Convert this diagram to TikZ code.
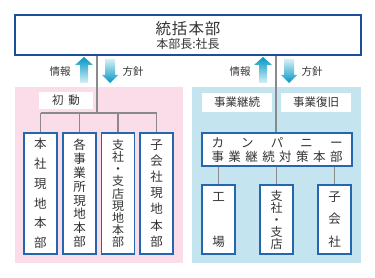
\documentclass[tikz,border=0pt]{standalone}
\usepackage{fontspec}
\setmainfont{Noto Sans CJK JP}
\usetikzlibrary{positioning}
\definecolor{HqBlue}{HTML}{1B4F9C}
\definecolor{BoxBlue}{HTML}{2566B0}
\definecolor{AreaPink}{HTML}{FADDE8}
\definecolor{AreaBlue}{HTML}{C4E4EF}
\definecolor{LinkGrey}{HTML}{8A8A8A}
\definecolor{ArrowCyan}{HTML}{0096C6}
\definecolor{ArrowPale}{HTML}{D8F0F5}
\definecolor{InkGrey}{HTML}{333333}
\tikzset{
  hqbox/.style={draw=HqBlue,line width=1.6pt,fill=white,align=center,inner sep=0pt,text=InkGrey},
  areabox/.style={inner sep=0pt,draw=none},
  tagbox/.style={fill=white,inner sep=0pt,minimum height=18pt,text=InkGrey,font=\fontsize{11.5}{13}\selectfont},
  unitbox/.style={draw=BoxBlue,line width=1.1pt,fill=white,align=center,inner sep=0pt,text=InkGrey,minimum width=33pt},
  link/.style={draw=LinkGrey,line width=1.6pt},
  flowlabel/.style={inner sep=0pt,text=InkGrey,font=\fontsize{10.5}{12}\selectfont},
  infoarrow/.pic={\shade[top color=ArrowCyan,bottom color=ArrowPale]
    (-4,13) -- (-4,-5) -- (-9,-5) -- (0,-13) -- (9,-5) -- (4,-5) -- (4,13) -- cycle;},
  planarrow/.pic={\shade[top color=ArrowPale,bottom color=ArrowCyan]
    (-5,-12) -- (-5,4) -- (-8,4) -- (0,12) -- (8,4) -- (5,4) -- (5,-12) -- cycle;}
}

\begin{document}
\begin{tikzpicture}[x=1pt,y=-1pt]
\useasboundingbox (0,0) rectangle (375,278);

% areas
\node[areabox,fill=AreaPink,minimum width=168pt,minimum height=176pt] (initial) at (99,175) {};
\node[areabox,fill=AreaBlue,minimum width=169pt,minimum height=176pt] (bcp) at (276.5,175) {};

% head office
\node[hqbox,minimum width=346pt,minimum height=40pt] (hq) at (188,35)
  {{\fontsize{15.5}{16}\selectfont 統\hspace{1pt}括\hspace{1pt}本\hspace{1pt}部}\\[2pt]{\fontsize{12}{12}\selectfont 本部長:社長}};

% info / policy arrows
\pic at (84,70) {infoarrow};
\pic at (110,71) {planarrow};
\pic at (263,70) {infoarrow};
\pic at (289,71) {planarrow};
\node[flowlabel] (infoL) at (60,72) {情報};
\node[flowlabel] (planL) at (133,72) {方針};
\node[flowlabel] (infoR) at (240,72) {情報};
\node[flowlabel] (planR) at (312,72) {方針};

% left side
\node[tagbox,minimum width=54pt,minimum height=17pt] (start) at (66,100.5) {初\hspace{5pt}動};
\node[unitbox,minimum height=121pt,font=\fontsize{12.5}{19.7}\selectfont] (u1) at (40.5,193.5) {本\\社\\現\\地\\本\\部};
\node[unitbox,minimum height=121pt,font=\fontsize{12.5}{13.8}\selectfont] (u2) at (79.5,193.5) {各\\事\\業\\所\\現\\地\\本\\部};
\node[unitbox,minimum height=121pt,font=\fontsize{12}{12.1}\selectfont] (u3) at (118,193.5) {支\\社\\・\\支\\店\\現\\地\\本\\部};
\node[unitbox,minimum height=121pt,font=\fontsize{12.5}{16.1}\selectfont] (u4) at (156.5,193.5) {子\\会\\社\\現\\地\\本\\部};

\coordinate (busL) at (97,113);
\draw[link] (hq.south -| busL) -- (busL);
\draw[link] (u1.north |- busL) -- (u4.north |- busL);
\foreach \u in {u1,u2,u3,u4}
  \draw[link] (\u.north |- busL) -- (\u.north);

% right side
\node[tagbox,minimum width=70pt,minimum height=19pt] (cont) at (237,102.5) {事業継続};
\node[tagbox,minimum width=70pt,minimum height=19pt] (recov) at (316,102.5) {事業復旧};
\node[unitbox,minimum width=150pt,minimum height=33pt,font=\fontsize{12.5}{14}\selectfont] (comp) at (277,149.5)
  {\makebox[131pt][s]{カ\hfill ン\hfill パ\hfill ニ\hfill ー}\\\makebox[131pt][s]{事\hfill 業\hfill 継\hfill 続\hfill 対\hfill 策\hfill 本\hfill 部}};
\node[unitbox,minimum height=69pt,font=\fontsize{12.5}{45}\selectfont] (w1) at (218.5,219.5) {工\\場};
\node[unitbox,minimum height=69pt,font=\fontsize{12}{12}\selectfont] (w2) at (276.5,219.5) {支\\社\\・\\支\\店};
\node[unitbox,minimum height=69pt,font=\fontsize{12.5}{22.5}\selectfont] (w3) at (334.5,219.5) {子\\会\\社};

\coordinate (trunkR) at (276,120);
\draw[link] (hq.south -| trunkR) -- (comp.north -| trunkR);
\foreach \w in {w1,w2,w3}
  \draw[link] (comp.south -| \w.north) -- (\w.north);
\end{tikzpicture}
\end{document}
